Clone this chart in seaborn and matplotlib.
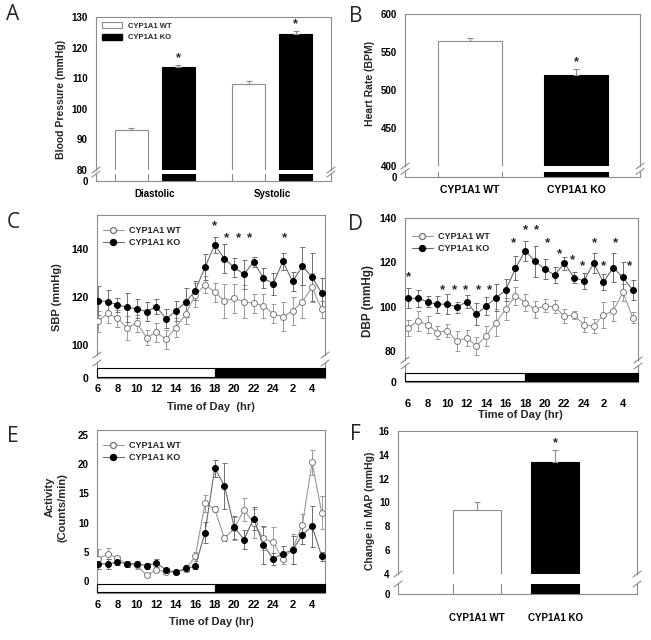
import numpy as np
import pandas as pd
import matplotlib
matplotlib.use("Agg")
import matplotlib.pyplot as plt
import seaborn as sns
from matplotlib.patches import Patch, Rectangle
from matplotlib.lines import Line2D

# ---------------- data ----------------
strains = ["CYP1A1 WT", "CYP1A1 KO"]

# Panel A: blood pressure
bp_conditions = ["Diastolic", "Systolic"]
bp_wt = [93.0, 108.0]
bp_wt_err = [0.7, 1.2]
bp_ko = [113.5, 124.3]
bp_ko_err = [0.8, 1.2]

# Panel B: heart rate
hr_values = [564.0, 520.0]
hr_err = [5.0, 7.0]

# Panel F: change in MAP
map_values = [9.35, 13.4]
map_err = [0.7, 1.0]

# Time course (hour of day)
hours = [6, 7, 8, 9, 10, 11, 12, 13, 14, 15, 16, 17, 18, 19, 20, 21, 22, 23, 24, 1, 2, 3, 4, 5]

# Panel C: SBP
sbp_wt = [109.8, 113.2, 111.1, 107.2, 109.1, 103.1, 105.3, 102.4, 107.2, 112.8, 120.9, 125.1,
          122.0, 118.4, 119.5, 118.1, 117.3, 116.4, 113.0, 111.8, 114.2, 118.1, 124.0, 114.9]
sbp_wt_err = [4.5, 4, 3.5, 5, 3.5, 3, 4, 4, 4, 4, 5, 3.5, 4, 7, 6, 7, 4, 5, 4, 6, 6, 7, 6, 3.5]
sbp_ko = [118.5, 118.1, 116.7, 115.7, 115.1, 113.9, 116.0, 110.9, 114.2, 117.8, 122.6, 132.5,
          141.7, 135.9, 132.3, 129.5, 134.6, 127.9, 125.5, 134.8, 126.5, 132.8, 128.3, 121.6]
sbp_ko_err = [6, 5, 3, 6, 4, 4, 3, 4, 4, 6, 4, 5.5, 3.5, 6, 4, 6, 2, 4, 4.5, 3.5, 4, 8, 10, 6.5]
sbp_star_x = [12.0, 13.2, 14.4, 15.6, 19.2]
sbp_star_y = [149.5, 144.6, 144.6, 144.6, 144.6]

# Panel D: DBP
dbp_wt = [90.4, 93.4, 91.9, 88.3, 89.2, 84.4, 85.9, 82.3, 86.8, 92.8, 98.9, 104.9,
          101.8, 98.7, 100.4, 99.9, 95.7, 96.2, 91.9, 91.3, 96.2, 98.0, 106.4, 95.0]
dbp_wt_err = [3.5, 4.5, 4, 3, 3, 4.5, 3.5, 4, 4.5, 6, 5, 4, 4, 4, 3, 3, 3, 2, 3.5, 3, 6, 4.5, 4, 2.5]
dbp_ko = [103.7, 103.7, 102.2, 101.0, 101.2, 99.8, 102.2, 96.6, 100.3, 104.0, 107.4, 117.3,
          125.3, 120.4, 117.0, 114.3, 119.6, 113.1, 111.6, 119.6, 111.0, 117.6, 113.2, 107.5]
dbp_ko_err = [4.5, 4, 2.5, 4, 4.5, 2.5, 3, 5, 4, 6, 5, 5.5, 4.5, 7, 4.5, 3.5, 3, 2.5, 3.5, 4.5, 3.5, 6.5, 7, 4.5]
dbp_star_x = [0.0, 3.5, 4.8, 5.9, 7.2, 8.3, 10.75, 12.0, 13.1, 14.3, 15.5, 16.8, 17.9, 19.1, 20.0, 21.2, 22.7]
dbp_star_y = [113.1, 107.5, 107.5, 107.5, 107.5, 107.5, 128.7, 134.3, 134.3, 128.7, 123.7, 121.1,
              118.1, 128.7, 118.1, 128.7, 118.1]

# Panel E: activity
act_wt = [3.7, 4.7, 3.9, 2.9, 2.7, 1.0, 1.9, 1.6, 1.5, 2.0, 4.2, 13.3,
          12.3, 7.3, 9.0, 12.2, 9.9, 7.3, 6.6, 3.7, 5.5, 9.6, 20.3, 11.7]
act_wt_err = [1.7, 1.0, 0.3, 0.5, 0.6, 0.3, 0.4, 0.3, 0.3, 0.4, 0.8, 1.5,
              0.5, 0.5, 2.0, 2.0, 2.5, 2.0, 2.7, 0.8, 2.5, 1.8, 2.2, 2.8]
act_ko = [3.0, 2.9, 3.3, 2.9, 3.0, 2.6, 3.1, 1.9, 1.5, 2.2, 2.5, 8.3,
          19.3, 16.3, 9.2, 7.1, 10.7, 6.2, 3.8, 4.7, 5.3, 7.9, 9.4, 4.2]
act_ko_err = [1.0, 0.9, 0.6, 0.5, 0.5, 0.5, 0.7, 0.3, 0.3, 0.5, 0.4, 1.8,
              1.5, 3.9, 2.0, 1.7, 2.0, 3.2, 1.0, 1.3, 2.4, 1.6, 3.5, 0.7]

# light/dark cycle: lights off at hour 18
dark_start_hour = 18

# ---------------- setup ----------------
sns.set_style("white")
plt.rcParams["font.family"] = ["Liberation Sans", "DejaVu Sans"]
plt.rcParams["font.weight"] = "bold"
plt.rcParams["axes.labelweight"] = "bold"

W, H = 651, 640
fig = plt.figure(figsize=(W / 100, H / 100), dpi=100)
GRAY = "#8c8c8c"
LINEGRAY = "#7f7f7f"


def add_ax(l, t, r, b):
    ax = fig.add_axes([l / W, 1 - b / H, (r - l) / W, (b - t) / H])
    ax.set_facecolor("none")
    for s in ax.spines.values():
        s.set_color(GRAY)
        s.set_linewidth(0.8)
    ax.tick_params(axis="both", colors="black", labelsize=7, length=3, width=0.7)
    ax.tick_params(axis="y", direction="out", color=GRAY, pad=3)
    ax.tick_params(axis="x", direction="in", color=GRAY)
    ax.set_xlabel("")
    ax.set_ylabel("")
    return ax


def upper(ax):
    ax.spines["bottom"].set_visible(False)
    ax.tick_params(axis="x", bottom=False, labelbottom=False)


def lower(ax):
    ax.spines["top"].set_visible(False)


def break_marks(l, r, y_up, y_low):
    for x in (l, r):
        for y in (y_up, y_low):
            fig.add_artist(Line2D([(x - 4) / W, (x + 4) / W], [1 - (y + 3) / H, 1 - (y - 3) / H],
                                  color=GRAY, lw=0.8))


def ftext(x, y, s, **kw):
    fig.text(x / W, 1 - y / H, s, **kw)


def fix_edges(ax):
    for p in ax.patches:
        fc = p.get_facecolor()
        p.set_edgecolor(GRAY if fc[0] > 0.5 else "black")
        p.set_linewidth(0.8)


def add_err(ax, vals, errs):
    patches = sorted(ax.patches, key=lambda p: p.get_x())
    xs = []
    for p, v, e in zip(patches, vals, errs):
        xc = p.get_x() + p.get_width() / 2
        xs.append(xc)
        ax.errorbar(xc, v, yerr=[[0], [e]], fmt="none", ecolor=GRAY, elinewidth=0.8,
                    capsize=2.5, capthick=0.8, zorder=1)
    return xs


# ---------------- Panel A ----------------
dfA = pd.DataFrame({
    "cond": bp_conditions * 2,
    "strain": [strains[0]] * 2 + [strains[1]] * 2,
    "bp": bp_wt + bp_ko,
})
palA = {strains[0]: "white", strains[1]: "black"}
axA = add_ax(96, 17, 331, 170)
axAl = add_ax(96, 174, 331, 181)
for ax in (axA, axAl):
    sns.barplot(data=dfA, x="cond", y="bp", hue="strain", hue_order=strains, order=bp_conditions,
                palette=palA, gap=0.3, errorbar=None, legend=False, ax=ax)
    fix_edges(ax)
    ax.set_xlim(-0.5, 1.5)
    ax.set_xlabel("")
    ax.set_ylabel("")
upper(axA)
lower(axAl)
axA.set_ylim(80, 130)
axA.set_yticks([80, 90, 100, 110, 120, 130])
axAl.set_ylim(0, 1)
axAl.set_yticks([0])
axAl.tick_params(axis="x", labelsize=7, pad=6)
xsA = add_err(axA, [bp_wt[0], bp_ko[0], bp_wt[1], bp_ko[1]],
              [bp_wt_err[0], bp_ko_err[0], bp_wt_err[1], bp_ko_err[1]])
for xc, v, e in [(xsA[1], bp_ko[0], bp_ko_err[0]), (xsA[3], bp_ko[1], bp_ko_err[1])]:
    axA.text(xc, v + e + 2.2, "*", ha="center", va="center", fontsize=9, fontweight="bold")
axA.legend(handles=[Patch(facecolor="white", edgecolor=GRAY, lw=0.8), Patch(facecolor="black", edgecolor="black")],
           labels=strains, loc="upper left", bbox_to_anchor=(102 / W, 1 - 22 / H),
           bbox_transform=fig.transFigure, frameon=False, fontsize=5.5, handlelength=2.6,
           handleheight=0.8, handletextpad=0.8, labelspacing=0.55, borderpad=0, borderaxespad=0)
break_marks(96, 331, 170, 174)
ftext(61, 99, "Blood Pressure (mmHg)", rotation=90, ha="center", va="center", fontsize=7.5, fontweight="bold")

# ---------------- Panel B ----------------
dfB = pd.DataFrame({"strain": strains, "hr": hr_values})
axB = add_ax(405, 14, 640, 166)
axBl = add_ax(405, 171.5, 640, 177)
for ax in (axB, axBl):
    sns.barplot(data=dfB, x="strain", y="hr", hue="strain", order=strains, hue_order=strains,
                palette=palA, width=0.6, errorbar=None, legend=False, ax=ax)
    fix_edges(ax)
    ax.set_xlim(-0.61, 1.6)
    ax.set_xlabel("")
    ax.set_ylabel("")
upper(axB)
lower(axBl)
axB.set_ylim(400, 600)
axB.set_yticks([400, 450, 500, 550, 600])
axBl.set_ylim(0, 1)
axBl.set_yticks([0])
axBl.tick_params(axis="x", labelsize=7.5, pad=6)
xsB = add_err(axB, hr_values, hr_err)
axB.text(xsB[1], hr_values[1] + hr_err[1] + 10, "*", ha="center", va="center", fontsize=9, fontweight="bold")
break_marks(405, 640, 166, 171.5)
ftext(370, 83, "Heart Rate (BPM)", rotation=90, ha="center", va="center", fontsize=7.5, fontweight="bold")


# ---------------- time course helper ----------------
idx = list(range(len(hours)))
tick_labels = [str(h) if i % 2 == 0 else "" for i, h in enumerate(hours)]
dark_idx = hours.index(dark_start_hour)


def draw_series(ax, wt, wt_err, ko, ko_err):
    df = pd.DataFrame({"idx": idx * 2, "val": wt + ko, "strain": [strains[0]] * 24 + [strains[1]] * 24})
    ax.errorbar(idx, wt, yerr=wt_err, fmt="none", ecolor="#9a9a9a", elinewidth=0.7, capsize=1.8,
                capthick=0.7, zorder=2)
    ax.errorbar(idx, ko, yerr=ko_err, fmt="none", ecolor="#6f6f6f", elinewidth=0.7, capsize=1.8,
                capthick=0.7, zorder=2)
    sns.lineplot(data=df[df.strain == strains[0]], x="idx", y="val", ax=ax, color="#9a9a9a",
                 lw=0.8, marker="o", markersize=4.3, markerfacecolor="white",
                 markeredgecolor="#7a7a7a", markeredgewidth=0.7, legend=False, zorder=3)
    sns.lineplot(data=df[df.strain == strains[1]], x="idx", y="val", ax=ax, color="#6a6a6a",
                 lw=0.8, marker="o", markersize=4.3, markerfacecolor="black",
                 markeredgecolor="black", markeredgewidth=0.7, legend=False, zorder=4)
    ax.set_xlabel("")
    ax.set_ylabel("")


def series_legend(ax, x, y, fs):
    h = [Line2D([], [], color="#9a9a9a", lw=0.8, marker="o", markersize=4.3, mfc="white", mec="#7a7a7a"),
         Line2D([], [], color="#6a6a6a", lw=0.8, marker="o", markersize=4.3, mfc="black", mec="black")]
    ax.legend(handles=h, labels=strains, loc="upper left", bbox_to_anchor=(x / W, 1 - y / H),
              bbox_transform=fig.transFigure, frameon=False, fontsize=fs, handlelength=2.3,
              handletextpad=0.6, labelspacing=0.35, borderpad=0, borderaxespad=0)


def light_strip(ax, y0, y1, xmin, xmax):
    ax.add_patch(Rectangle((xmin, y0), dark_idx - xmin, y1 - y0, facecolor="white",
                           edgecolor="black", lw=0.8, zorder=3, clip_on=False))
    ax.add_patch(Rectangle((dark_idx, y0), xmax - dark_idx, y1 - y0, facecolor="black",
                           edgecolor="black", lw=0.8, zorder=3, clip_on=False))


def time_xaxis(ax, pad, fs):
    ax.set_xticks(idx)
    ax.set_xticklabels(tick_labels)
    ax.tick_params(axis="x", direction="in", length=3, labelsize=fs, pad=pad, color=GRAY)


# ---------------- Panel C ----------------
axC = add_ax(97, 215, 325, 355)
axCl = add_ax(97, 363, 325, 378)
draw_series(axC, sbp_wt, sbp_wt_err, sbp_ko, sbp_ko_err)
xlimC = (-0.1, 23.33)
for ax in (axC, axCl):
    ax.set_xlim(*xlimC)
upper(axC)
lower(axCl)
axC.set_ylim(95.83, 154.17)
axC.set_yticks([100, 120, 140])
axC.tick_params(axis="y", labelsize=7.5)
axCl.set_ylim(0, 1)
axCl.set_yticks([0])
axCl.tick_params(axis="y", labelsize=7.5)
light_strip(axCl, 0.07, 0.7, xlimC[0], xlimC[1])
time_xaxis(axCl, 4.5, 8)
for x, y in zip(sbp_star_x, sbp_star_y):
    axC.text(x, y, "*", ha="center", va="center", fontsize=9.5, fontweight="bold")
series_legend(axC, 103, 226, 6.5)
break_marks(97, 325, 355, 363)
ftext(57, 297, "SBP (mmHg)", rotation=90, ha="center", va="center", fontsize=8, fontweight="bold")
ftext(211, 407, "Time of Day  (hr)", ha="center", va="center", fontsize=8, fontweight="bold")

# ---------------- Panel D ----------------
axD = add_ax(405, 218, 638, 360)
axDl = add_ax(405, 366, 638, 382)
draw_series(axD, dbp_wt, dbp_wt_err, dbp_ko, dbp_ko_err)
xlimD = (-0.31, 23.54)
for ax in (axD, axDl):
    ax.set_xlim(*xlimD)
upper(axD)
lower(axDl)
axD.set_ylim(75.9, 140)
axD.set_yticks([80, 100, 120, 140])
axD.tick_params(axis="y", labelsize=7.5)
axDl.set_ylim(0, 1)
axDl.set_yticks([0])
axDl.tick_params(axis="y", labelsize=7.5)
light_strip(axDl, 0.08, 0.58, xlimD[0], xlimD[1])
time_xaxis(axDl, 12, 8)
for x, y in zip(dbp_star_x, dbp_star_y):
    axD.text(x, y, "*", ha="center", va="center", fontsize=9.5, fontweight="bold")
series_legend(axD, 412, 232, 6.5)
break_marks(405, 638, 360, 366)
ftext(368, 301, "DBP (mmHg)", rotation=90, ha="center", va="center", fontsize=8.5, fontweight="bold")
ftext(520, 415, "Time of Day (hr)", ha="center", va="center", fontsize=8, fontweight="bold")

# ---------------- Panel E ----------------
axE = add_ax(97, 430, 325, 593)
draw_series(axE, act_wt, act_wt_err, act_ko, act_ko_err)
xlimE = (-0.1, 23.33)
axE.set_xlim(*xlimE)
axE.set_ylim(-2.05, 25.86)
axE.set_yticks([0, 5, 10, 15, 20, 25])
axE.tick_params(axis="y", labelsize=7)
light_strip(axE, -1.83, -0.57, xlimE[0], xlimE[1])
time_xaxis(axE, 5, 8)
series_legend(axE, 103, 441, 6.5)
ftext(50, 497, "Activity", rotation=90, ha="center", va="center", fontsize=8, fontweight="bold")
ftext(62, 508, "(Counts/min)", rotation=90, ha="center", va="center", fontsize=8, fontweight="bold")
ftext(211, 622, "Time of Day (hr)", ha="center", va="center", fontsize=8, fontweight="bold")

# ---------------- Panel F ----------------
dfF = pd.DataFrame({"strain": strains, "map": map_values})
axF = add_ax(398, 431, 637, 574)
axFl = add_ax(398, 584, 637, 594)
for ax in (axF, axFl):
    sns.barplot(data=dfF, x="strain", y="map", hue="strain", order=strains, hue_order=strains,
                palette=palA, width=0.61, errorbar=None, legend=False, ax=ax)
    fix_edges(ax)
    ax.set_xlim(-1.0, 2.04)
    ax.set_xlabel("")
    ax.set_ylabel("")
upper(axF)
lower(axFl)
axF.set_ylim(4, 16)
axF.set_yticks([4, 6, 8, 10, 12, 14, 16])
axFl.set_ylim(0, 1)
axFl.set_yticks([0])
axFl.tick_params(axis="x", labelsize=7, pad=14)
xsF = add_err(axF, map_values, map_err)
axF.text(xsF[1], map_values[1] + map_err[1] + 0.6, "*", ha="center", va="center", fontsize=9, fontweight="bold")
break_marks(398, 637, 574, 584)
ftext(370, 511, "Change in MAP (mmHg)", rotation=90, ha="center", va="center", fontsize=7.5, fontweight="bold")

# ---------------- panel letters ----------------
for (x, y, s) in [(13, 15, "A"), (356, 16, "B"), (13, 223, "C"), (356, 225, "D"), (13, 436, "E"), (355, 435, "F")]:
    ftext(x, y, s, ha="center", va="center", fontsize=15, fontweight="normal", family=["Open Sans", "DejaVu Sans"])

fig.savefig("out.png", dpi=100, facecolor="white")
